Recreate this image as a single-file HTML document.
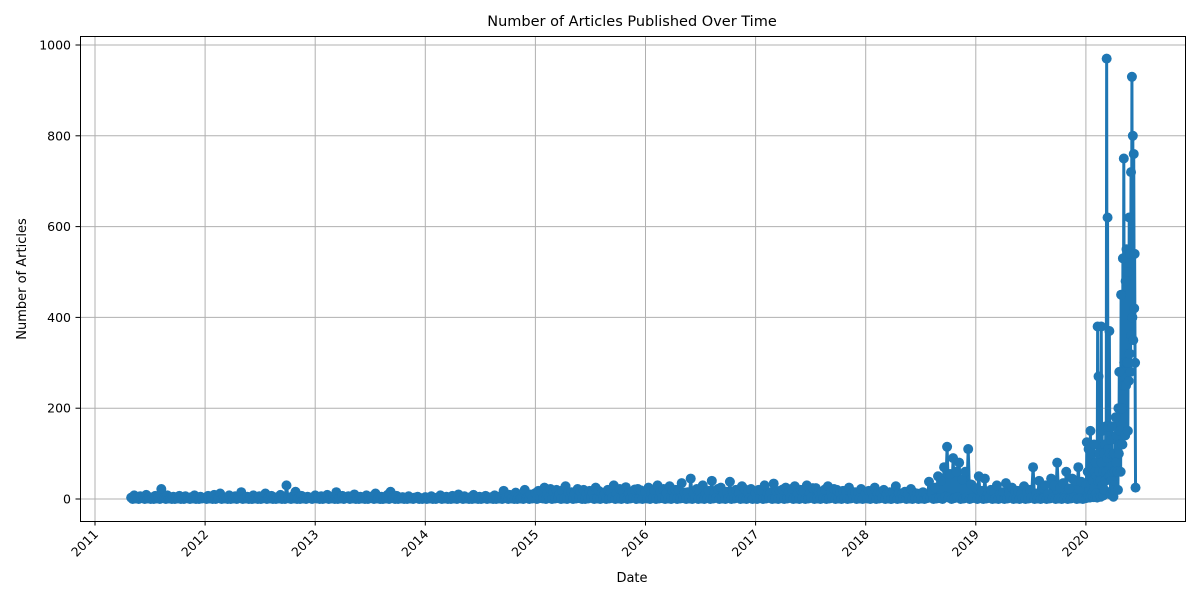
<!DOCTYPE html>
<html><head><meta charset="utf-8"><style>
html,body{margin:0;padding:0;background:#fff;}
svg{display:block;font-family:"DejaVu Sans","Liberation Sans",sans-serif;}
</style></head><body>
<svg id="chart" width="1200" height="600" viewBox="0 0 1200 600">
<rect x="0" y="0" width="1200" height="600" fill="#fff"/>
<g id="grid"></g>
<g id="series"></g>
<rect x="80.5" y="36.5" width="1105" height="485" fill="none" stroke="#000" stroke-width="1"/>
<g id="axes"></g>
<text x="632" y="26" text-anchor="middle" font-size="14.5">Number of Articles Published Over Time</text>
<text x="632" y="582" text-anchor="middle" font-size="13">Date</text>
<text x="26" y="279" text-anchor="middle" font-size="13" transform="rotate(-90 26 279)">Number of Articles</text>
</svg>
<script>
const yearTicks = [2011,2012,2013,2014,2015,2016,2017,2018,2019,2020];
const yTicks = [0,200,400,600,800,1000];
// peak-ish values every 10 days
const v2011 = [3,8,1,6,2,9,4,1,7,3,22,2,8,1,5,3,7,2,6,1,4,8,2,5];
const v2012 = [3,7,1,9,2,12,4,1,8,3,6,2,15,1,5,3,8,2,6,1,12,3,7,1,4,9,2,30,1,6,16,2,7,1,5,3];
const v2013 = [8,2,6,1,9,3,5,15,1,7,2,6,4,10,2,5,1,8,3,6,12,2,5,1,9,16,3,7,1,4,2,6,1,3,5,2];
const v2014 = [4,1,6,2,3,8,1,5,2,7,1,10,3,6,1,4,9,2,5,1,7,3,4,8,1,6,18,3,9,2,14,5,1,20,4,10];
const v2015 = [13,18,16,25,12,22,15,20,11,19,28,14,15,12,22,16,20,11,18,14,25,18,14,13,20,15,30,12,22,17,26,14,16,21,22,19];
const v2016 = [15,25,12,18,30,16,22,13,28,18,20,21,35,14,15,45,12,22,17,30,13,18,40,15,22,25,12,16,38,16,20,13,28,21,14,22];
const v2017 = [14,20,18,30,12,15,34,16,18,21,25,15,22,28,13,20,17,30,12,24,24,15,16,21,28,16,22,20,13,18,18,25,12,15,15,22];
const v2018 = [13,18,16,25,12,12,20,11,15,15,28,13,10,16,12,22,14,12,11,15,8,38,13,25,50,40,70,115,55,90,60,80,43,60,110,32];
const v2019 = [24,50,18,45,12,20,16,30,11,15,35,13,25,18,18,12,28,15,20,70,12,40,26,30,11,45,30,80,25,35,60,23,45,40,70,38];
// low values interleaved (5 days after each peak)
const lo2011 = [0,1,0,2,0,1,0,0,1,0,2,0,1,0,0,1,0,0,2,0,1,0,0,1];
const lo2012 = [0,1,0,0,2,0,1,0,0,1,0,2,0,1,0,0,1,0,0,2,0,1,0,0,1,0,0,2,0,1,0,0,1,0,2,0];
const lo2013 = [1,0,0,2,0,1,0,0,1,0,2,0,1,0,0,1,0,0,2,0,1,0,0,1,0,2,0,0,1,0,0,1,0,2,0,0];
const lo2014 = [0,1,0,0,2,0,1,0,0,1,0,2,0,1,0,0,1,0,0,2,0,1,0,0,1,0,2,0,1,0,0,1,0,2,0,1];
const lo2015 = [0,2,1,0,3,0,1,2,0,1,0,3,0,1,2,0,0,1,3,0,1,0,2,0,1,3,0,1,0,2,0,1,3,0,1,0];
const lo2016 = [1,0,3,0,1,2,0,1,0,3,0,1,2,0,1,0,3,0,1,0,2,0,1,3,0,1,0,2,0,1,3,0,1,0,2,0];
const lo2017 = [0,2,0,1,3,0,1,0,2,0,1,3,0,1,0,2,0,1,3,0,1,0,2,0,1,3,0,1,0,2,0,1,3,0,1,0];
const lo2018 = [1,0,2,0,1,3,0,1,0,2,0,1,3,0,1,0,2,0,1,0,2,3,0,1,2,0,5,3,0,2,4,0,1,3,0,2];
const lo2019 = [0,2,0,1,3,0,1,0,2,0,1,3,0,1,0,2,0,1,3,0,1,0,2,0,1,3,0,1,0,2,0,1,3,0,1,0];
// 2020 peaks every 3 days, lows between
const v2020 = [30,125,60,110,20,150,70,100,40,120,60,80,50,380,270,100,40,380,150,60,100,120,160,970,620,160,370,50,130,160,20,100,60,180,140,60,200,280,120,450,200,530,750,250,480,550,300,500,620,540,720,930,800,760,540,25];
const lo2020 = [2,10,5,20,3,30,8,15,4,25,6,12,3,40,60,10,5,80,30,8,20,40,60,90,110,50,100,10,40,60,5,30,20,80,60,20,100,150,60,200,120,250,300,140,250,300,150,260,320,280,360,400,350,420,300,10];

const NS="http://www.w3.org/2000/svg";
const x0=95, pxYear=110.1, y0=499, pxUnit=(499-45)/1000;
function xScale(yearFloat){return x0+(yearFloat-2011)*pxYear;}
function yScale(v){return y0-v*pxUnit;}
function mk(tag,attrs,parent){const e=document.createElementNS(NS,tag);for(const k in attrs)e.setAttribute(k,attrs[k]);parent.appendChild(e);return e;}

const grid=document.getElementById('grid'), axes=document.getElementById('axes'), series=document.getElementById('series');
yearTicks.forEach(y=>{
  const x=xScale(y);
  const gl=mk('line',{x1:x,x2:x,y1:36,y2:521,stroke:'#b0b0b0','stroke-width':1},grid);
  
  
  mk('line',{x1:x,x2:x,y1:521,y2:525.5,stroke:'#000'},axes);
  const t=mk('text',{x:x+4,y:535,'font-size':12.5,'text-anchor':'end',transform:`rotate(-45 ${x+4} 535)`},axes);
  t.textContent=y;
  
  
});
yTicks.forEach(v=>{
  const y=yScale(v);
  const gl=mk('line',{x1:80,x2:1185,y1:y,y2:y,stroke:'#b0b0b0','stroke-width':1},grid);
  
  
  mk('line',{x1:75.5,x2:80,y1:y,y2:y,stroke:'#000'},axes);
  const t=mk('text',{x:71,y:y+4.5,'font-size':12.5,'text-anchor':'end'},axes);
  t.textContent=v;
  
  
});

const pts=[];
const yearArrays=[[2011,v2011,lo2011,120],[2012,v2012,lo2012,0],[2013,v2013,lo2013,0],[2014,v2014,lo2014,0],[2015,v2015,lo2015,0],[2016,v2016,lo2016,0],[2017,v2017,lo2017,0],[2018,v2018,lo2018,0],[2019,v2019,lo2019,0]];
yearArrays.forEach(([yr,hi,lo,start])=>{
  hi.forEach((v,i)=>{
    pts.push([yr+(start+i*10)/365.25,v]);
    if(i<lo.length) pts.push([yr+(start+i*10+5)/365.25,lo[i]]);
  });
});
v2020.forEach((v,i)=>{
  pts.push([2020+(i*3)/366,v]);
  if(i<lo2020.length && i<v2020.length-1) pts.push([2020+(i*3+1.5)/366,lo2020[i]]);
});

const d=pts.map((p,i)=>(i?'L':'M')+xScale(p[0]).toFixed(2)+' '+yScale(p[1]).toFixed(2)).join(' ');
const path=mk('path',{d:d,fill:'none',stroke:'#1f77b4','stroke-width':3,'stroke-linejoin':'round'},series);


pts.forEach(p=>{
  const c=mk('circle',{cx:xScale(p[0]),cy:yScale(p[1]),r:5,fill:'#1f77b4'},series);
  
  
});
</script>
</body></html>
